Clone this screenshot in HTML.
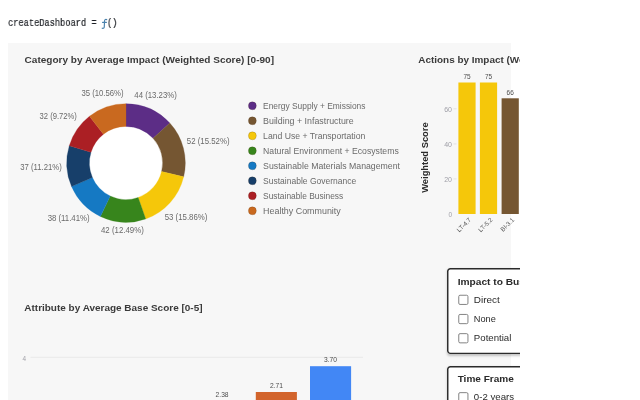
<!DOCTYPE html>
<html><head><meta charset="utf-8"><title>createDashboard</title>
<style>
html,body{margin:0;padding:0;background:#fff;}
body{width:640px;height:400px;overflow:hidden;position:relative;font-family:"Liberation Sans",sans-serif;}
#code{will-change:transform;position:absolute;left:8.3px;top:16.1px;font-family:"Liberation Mono",monospace;font-size:10.8px;line-height:15px;color:#1b1e23;white-space:pre;transform-origin:0 0;transform:scaleX(0.804);-webkit-text-stroke:0.2px #1b1e23;}
#code span{color:#4a86b0;}
#clip{position:absolute;left:0;top:0;width:520px;height:400px;overflow:hidden;will-change:transform;}
#panel{position:absolute;left:8px;top:43.2px;width:502.5px;height:400px;background:#f7f7f7;}
svg{position:absolute;left:0;top:0;}
svg text{font-family:"Liberation Sans",sans-serif;}
.ti{font-weight:bold;font-size:9.5px;fill:#3a3a3a;}
.dl{font-size:8.7px;fill:#6a6a6a;}
.lg{font-size:8.7px;fill:#6a6a6a;}
.bv{font-size:7.8px;fill:#4c4c4c;}
.bx{font-size:6.3px;fill:#555;}
.bt{font-size:7.8px;fill:#a0a0a8;}
.ya{font-weight:bold;font-size:9.7px;fill:#2a2a2a;}
.ft{font-weight:bold;font-size:9.5px;fill:#2a2a2a;}
.fl{font-size:9.8px;fill:#2a2a2a;}
.fs{position:absolute;left:446.9px;width:120px;height:86.1px;box-sizing:border-box;border-radius:3.2px;background:#fff;box-shadow:0 1.5px 2.5px rgba(0,0,0,.22);}
.fs svg{left:0;top:0;overflow:visible;}
</style></head><body>
<div id="code">createDashboard = <span style="visibility:hidden">f</span>()</div>
<svg id="fn" width="20" height="20" viewBox="0 0 20 20" style="left:98px;top:14px;will-change:transform"><path d="M8.7,5.6 C7.4,5.1 6.6,5.7 6.5,7.2 L6.3,12.6 C6.2,14.1 5.5,14.6 4.2,14.2 M4.6,8.4 L8.4,8.4" fill="none" stroke="#4a82ad" stroke-width="1.15" stroke-linecap="round"/></svg>
<div id="clip">
<div id="panel"></div>
<svg width="640" height="400" viewBox="0 0 640 400">
<text x="24.6" y="62.9" textLength="249.4" lengthAdjust="spacingAndGlyphs" class="ti" >Category by Average Impact (Weighted Score) [0-90]</text>

<circle cx="126.0" cy="163.0" r="37.1" fill="#fff"/>
<path d="M126.00,103.70A59.3,59.3 0 0 1 169.81,123.04L153.04,138.33A36.6,36.6 0 0 0 126.00,126.40Z" fill="#5c2d86" stroke="#5c2d86" stroke-width="0.3"/>
<path d="M169.81,123.04A59.3,59.3 0 0 1 183.66,176.84L161.59,171.54A36.6,36.6 0 0 0 153.04,138.33Z" fill="#755632" stroke="#755632" stroke-width="0.3"/>
<path d="M183.66,176.84A59.3,59.3 0 0 1 145.70,218.93L138.16,197.52A36.6,36.6 0 0 0 161.59,171.54Z" fill="#f5c70a" stroke="#f5c70a" stroke-width="0.3"/>
<path d="M145.70,218.93A59.3,59.3 0 0 1 100.41,216.50L110.21,196.02A36.6,36.6 0 0 0 138.16,197.52Z" fill="#37851c" stroke="#37851c" stroke-width="0.3"/>
<path d="M100.41,216.50A59.3,59.3 0 0 1 71.56,186.52L92.40,177.51A36.6,36.6 0 0 0 110.21,196.02Z" fill="#1579c3" stroke="#1579c3" stroke-width="0.3"/>
<path d="M71.56,186.52A59.3,59.3 0 0 1 69.29,145.67L91.00,152.30A36.6,36.6 0 0 0 92.40,177.51Z" fill="#173f6a" stroke="#173f6a" stroke-width="0.3"/>
<path d="M69.29,145.67A59.3,59.3 0 0 1 89.48,116.28L103.46,134.17A36.6,36.6 0 0 0 91.00,152.30Z" fill="#ab1f24" stroke="#ab1f24" stroke-width="0.3"/>
<path d="M89.48,116.28A59.3,59.3 0 0 1 126.00,103.70L126.00,126.40A36.6,36.6 0 0 0 103.46,134.17Z" fill="#c9691f" stroke="#c9691f" stroke-width="0.3"/>
<text x="134.3" y="97.8" textLength="42.45" lengthAdjust="spacingAndGlyphs" class="dl" >44 (13.23%)</text>
<text x="186.85" y="144.0" textLength="42.65" lengthAdjust="spacingAndGlyphs" class="dl" >52 (15.52%)</text>
<text x="164.7" y="219.5" textLength="42.7" lengthAdjust="spacingAndGlyphs" class="dl" >53 (15.86%)</text>
<text x="101.0" y="232.9" textLength="42.75" lengthAdjust="spacingAndGlyphs" class="dl" >42 (12.49%)</text>
<text x="47.65" y="220.9" textLength="41.95" lengthAdjust="spacingAndGlyphs" class="dl" >38 (11.41%)</text>
<text x="20.2" y="170.1" textLength="41.55" lengthAdjust="spacingAndGlyphs" class="dl" >37 (11.21%)</text>
<text x="39.6" y="118.8" textLength="37.3" lengthAdjust="spacingAndGlyphs" class="dl" >32 (9.72%)</text>
<text x="81.4" y="96.3" textLength="42.1" lengthAdjust="spacingAndGlyphs" class="dl" >35 (10.56%)</text>

<circle cx="252.4" cy="105.8" r="4.0" fill="#5c2d86" stroke="rgba(60,30,0,0.35)" stroke-width="0.5"/><text x="263.1" y="108.6" textLength="102.4" lengthAdjust="spacingAndGlyphs" class="lg" >Energy Supply + Emissions</text>
<circle cx="252.4" cy="120.8" r="4.0" fill="#755632" stroke="rgba(60,30,0,0.35)" stroke-width="0.5"/><text x="263.1" y="123.6" textLength="90.65" lengthAdjust="spacingAndGlyphs" class="lg" >Building + Infastructure</text>
<circle cx="252.4" cy="135.8" r="4.0" fill="#f5c70a" stroke="rgba(60,30,0,0.35)" stroke-width="0.5"/><text x="263.1" y="138.6" textLength="102.15" lengthAdjust="spacingAndGlyphs" class="lg" >Land Use + Transportation</text>
<circle cx="252.4" cy="150.8" r="4.0" fill="#37851c" stroke="rgba(60,30,0,0.35)" stroke-width="0.5"/><text x="263.1" y="153.6" textLength="135.65" lengthAdjust="spacingAndGlyphs" class="lg" >Natural Environment + Ecosystems</text>
<circle cx="252.4" cy="165.8" r="4.0" fill="#1579c3" stroke="rgba(60,30,0,0.35)" stroke-width="0.5"/><text x="263.1" y="168.6" textLength="136.9" lengthAdjust="spacingAndGlyphs" class="lg" >Sustainable Materials Management</text>
<circle cx="252.4" cy="180.8" r="4.0" fill="#173f6a" stroke="rgba(60,30,0,0.35)" stroke-width="0.5"/><text x="263.1" y="183.6" textLength="93.15" lengthAdjust="spacingAndGlyphs" class="lg" >Sustainable Governance</text>
<circle cx="252.4" cy="195.8" r="4.0" fill="#ab1f24" stroke="rgba(60,30,0,0.35)" stroke-width="0.5"/><text x="263.1" y="198.6" textLength="80.15" lengthAdjust="spacingAndGlyphs" class="lg" >Sustainable Business</text>
<circle cx="252.4" cy="210.8" r="4.0" fill="#c9691f" stroke="rgba(60,30,0,0.35)" stroke-width="0.5"/><text x="263.1" y="213.6" textLength="77.65" lengthAdjust="spacingAndGlyphs" class="lg" >Healthy Community</text>

<text x="418.3" y="62.9" textLength="169.6" lengthAdjust="spacingAndGlyphs" class="ti" >Actions by Impact (Weighted Score)</text>

<text transform="translate(427.8,157.6) rotate(-90)" text-anchor="middle" textLength="70.4" lengthAdjust="spacingAndGlyphs" class="ya">Weighted Score</text>
<rect x="458.4" y="82.5" width="17.2" height="131.5" fill="#f5c70a"/><text x="463.4" y="79.2" textLength="7.2" lengthAdjust="spacingAndGlyphs" class="bv">75</text><text transform="translate(471.59999999999997,220.2) rotate(-45)" text-anchor="end" class="bx">LT-4.7</text>
<rect x="479.9" y="82.5" width="17.2" height="131.5" fill="#f5c70a"/><text x="484.9" y="79.2" textLength="7.2" lengthAdjust="spacingAndGlyphs" class="bv">75</text><text transform="translate(493.09999999999997,220.2) rotate(-45)" text-anchor="end" class="bx">LT-5.2</text>
<rect x="501.6" y="98.3" width="17.2" height="115.7" fill="#755632"/><text x="506.6" y="95.0" textLength="7.2" lengthAdjust="spacingAndGlyphs" class="bv">66</text><text transform="translate(514.8000000000001,220.2) rotate(-45)" text-anchor="end" class="bx">BI-3.1</text>
<text x="448.4" y="216.8" textLength="3.6" lengthAdjust="spacingAndGlyphs" class="bt">0</text><text x="444.2" y="181.7" textLength="7.8" lengthAdjust="spacingAndGlyphs" class="bt">20</text><line x1="453.5" x2="456.5" y1="178.9" y2="178.9" stroke="#ddd" stroke-width="0.8"/><text x="444.2" y="146.7" textLength="7.8" lengthAdjust="spacingAndGlyphs" class="bt">40</text><line x1="453.5" x2="456.5" y1="143.9" y2="143.9" stroke="#ddd" stroke-width="0.8"/><text x="444.2" y="111.6" textLength="7.8" lengthAdjust="spacingAndGlyphs" class="bt">60</text><line x1="453.5" x2="456.5" y1="108.8" y2="108.8" stroke="#ddd" stroke-width="0.8"/>
<text x="24.3" y="310.5" textLength="178.2" lengthAdjust="spacingAndGlyphs" class="ti" >Attribute by Average Base Score [0-5]</text>

<line x1="30.5" x2="363" y1="357.4" y2="357.4" stroke="#ececec" stroke-width="1.1"/>
<text x="22.4" y="360.6" class="bt" style="font-size:6.4px">4</text>
<rect x="310" y="366.2" width="41.1" height="40" fill="#4287f5"/>
<text x="323.9" y="362.3" textLength="13" lengthAdjust="spacingAndGlyphs" class="bv">3.70</text>
<rect x="255.8" y="392" width="41.1" height="10" fill="#d2642c"/>
<text x="269.9" y="388.3" textLength="13" lengthAdjust="spacingAndGlyphs" class="bv">2.71</text>
<text x="215.6" y="396.5" textLength="13" lengthAdjust="spacingAndGlyphs" class="bv">2.38</text>
</svg>
<div class="fs" style="top:267.5px;"><svg width="120" height="87" viewBox="0 0 120 87"><rect x="0.75" y="0.75" width="118.5" height="84.6" rx="2.6" fill="none" stroke="#2b2b2b" stroke-width="1.45"/><g transform="translate(-0.15,-0.35)"><text x="10.8" y="17.2" textLength="93.4" lengthAdjust="spacingAndGlyphs" class="ft" >Impact to Business</text>
<rect x="11.9" y="27.6" width="9.2" height="9.2" rx="1.3" fill="#fff" stroke="#767676" stroke-width="0.9"/><text x="27" y="35.1" textLength="26" lengthAdjust="spacingAndGlyphs" class="fl" >Direct</text>
<rect x="11.9" y="46.8" width="9.2" height="9.2" rx="1.3" fill="#fff" stroke="#767676" stroke-width="0.9"/><text x="27" y="54.3" textLength="22" lengthAdjust="spacingAndGlyphs" class="fl" >None</text>
<rect x="11.9" y="66.0" width="9.2" height="9.2" rx="1.3" fill="#fff" stroke="#767676" stroke-width="0.9"/><text x="27" y="73.5" textLength="37.5" lengthAdjust="spacingAndGlyphs" class="fl" >Potential</text>
</g></svg></div>

<div class="fs" style="top:365.5px;"><svg width="120" height="87" viewBox="0 0 120 87"><rect x="0.75" y="0.75" width="118.5" height="84.6" rx="2.6" fill="none" stroke="#2b2b2b" stroke-width="1.45"/><g transform="translate(-0.15,-0.95)"><text x="10.8" y="17.2" textLength="56.2" lengthAdjust="spacingAndGlyphs" class="ft" >Time Frame</text>
<rect x="11.9" y="27.6" width="9.2" height="9.2" rx="1.3" fill="#fff" stroke="#767676" stroke-width="0.9"/><text x="27" y="35.1" textLength="40.2" lengthAdjust="spacingAndGlyphs" class="fl" >0-2 years</text>
</g></svg></div>

</div>
</body></html>
